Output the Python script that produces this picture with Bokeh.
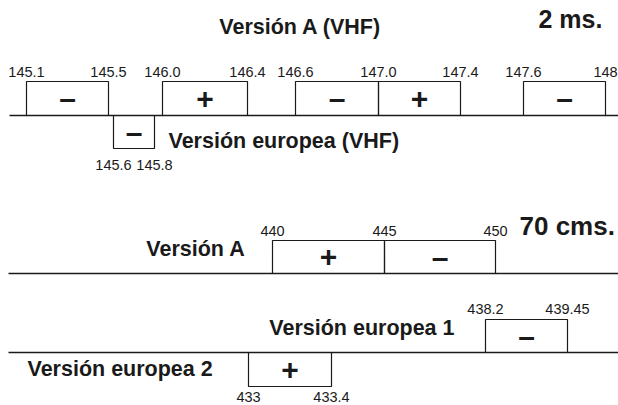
import numpy as np
from bokeh.plotting import figure
from bokeh.models import Range1d, ColumnDataSource
from bokeh.core.properties import value
from bokeh.embed import file_html
from bokeh.resources import INLINE

# ---------------- data ----------------
# 2 m (VHF) – Versión A
vhf_a_low = [145.1, 146.0, 146.6, 147.0, 147.6]
vhf_a_high = [145.5, 146.4, 147.0, 147.4, 148.0]
vhf_a_sign = ["–", "+", "–", "+", "–"]
vhf_a_ticks = [145.1, 145.5, 146.0, 146.4, 146.6, 147.0, 147.4, 147.6, 148.0]
vhf_a_tick_labels = ["145.1", "145.5", "146.0", "146.4", "146.6", "147.0", "147.4", "147.6", "148"]

# 2 m (VHF) – Versión europea
vhf_e_low = [145.6]
vhf_e_high = [145.8]
vhf_e_sign = ["–"]
vhf_e_ticks = [145.6, 145.8]
vhf_e_tick_labels = ["145.6", "145.8"]

# 70 cm (UHF) – Versión A
uhf_a_low = [440, 445]
uhf_a_high = [445, 450]
uhf_a_sign = ["+", "–"]
uhf_a_ticks = [440, 445, 450]
uhf_a_tick_labels = ["440", "445", "450"]

# 70 cm – Versión europea 1
uhf_e1_low = [438.2]
uhf_e1_high = [439.45]
uhf_e1_sign = ["–"]
uhf_e1_ticks = [438.2, 439.45]
uhf_e1_tick_labels = ["438.2", "439.45"]

# 70 cm – Versión europea 2
uhf_e2_low = [433.0]
uhf_e2_high = [433.4]
uhf_e2_sign = ["+"]
uhf_e2_ticks = [433.0, 433.4]
uhf_e2_tick_labels = ["433", "433.4"]

# ---------------- schematic layout (not to scale) ----------------
# piecewise schematic mapping frequency -> horizontal position
vhf_anchor_f = [145.1, 145.5, 145.6, 145.8, 146.0, 146.4, 146.6, 147.0, 147.4, 147.6, 148.0]
vhf_anchor_x = [26, 108, 113, 154, 162, 247, 295, 378, 460, 523, 605]
uhf_anchor_f = [433.0, 433.4, 438.2, 439.45, 440, 445, 450]
uhf_anchor_x = [248, 331, 485, 567, 272, 384, 495]


def vmap(f):
    return np.interp(f, vhf_anchor_f, vhf_anchor_x)


def umap(f):
    return [uhf_anchor_x[uhf_anchor_f.index(v)] for v in f]


FONT = value("Liberation Sans")
INK = "#1a1a1a"

p = figure(width=618, height=405, output_backend="svg", toolbar_location=None,
           x_range=Range1d(0, 618), y_range=Range1d(405, 0),
           min_border=0, outline_line_color=None, background_fill_color="white")
p.axis.visible = False
p.grid.visible = False

# baselines
base_y = [115, 273, 352]
p.segment(x0=[9, 8, 8], x1=[618, 618, 618], y0=base_y, y1=base_y,
          line_color=INK, line_width=1.5)


def boxes(xl, xr, top, bottom, signs, label_x, label_y, labels):
    xl = np.asarray(xl, float)
    xr = np.asarray(xr, float)
    src = ColumnDataSource(dict(left=xl, right=xr, top=[top] * len(xl), bottom=[bottom] * len(xl),
                                cx=(xl + xr) / 2, cy=[(top + bottom) / 2] * len(xl), sign=signs))
    p.quad(left="left", right="right", top="top", bottom="bottom", source=src,
           fill_color=None, line_color=INK, line_width=1.2)
    p.text(x="cx", y="cy", text="sign", source=src, text_font=FONT, text_font_style="bold",
           text_font_size="30px", text_align="center", text_baseline="middle", text_color=INK)
    p.text(x=list(label_x), y=[label_y] * len(labels), text=labels, text_font=FONT,
           text_font_size="14.5px", text_align="center", text_baseline="middle", text_color=INK)


# VHF
boxes(vmap(vhf_a_low), vmap(vhf_a_high), 81, 115, vhf_a_sign, vmap(vhf_a_ticks), 71, vhf_a_tick_labels)
boxes(vmap(vhf_e_low), vmap(vhf_e_high), 115, 148, vhf_e_sign, vmap(vhf_e_ticks), 164, vhf_e_tick_labels)
# UHF
boxes(umap(uhf_a_low), umap(uhf_a_high), 240, 273, uhf_a_sign, umap(uhf_a_ticks), 230, uhf_a_tick_labels)
boxes(umap(uhf_e1_low), umap(uhf_e1_high), 319, 352, uhf_e1_sign, umap(uhf_e1_ticks), 308, uhf_e1_tick_labels)
boxes(umap(uhf_e2_low), umap(uhf_e2_high), 352, 386, uhf_e2_sign, umap(uhf_e2_ticks), 396, uhf_e2_tick_labels)

# titles / row names
names = ["Versión A (VHF)", "Versión europea (VHF)", "Versión A", "Versión europea 1", "Versión europea 2"]
names_x = [300, 168, 245, 454, 27]
names_y = [26, 140, 248, 327, 368]
names_align = ["center", "left", "right", "right", "left"]
p.text(x=names_x, y=names_y, text=names, text_align=names_align, text_baseline="middle",
       text_font=FONT, text_font_style="bold", text_font_size="21.5px", text_color=INK)

bands = ["2 ms.", "70 cms."]
p.text(x=[538, 519], y=[18, 225], text=bands, text_align="left", text_baseline="middle",
       text_font=FONT, text_font_style="bold", text_font_size=["25px", "26px"], text_color=INK)

open("out.html", "w").write(file_html(p, INLINE))
